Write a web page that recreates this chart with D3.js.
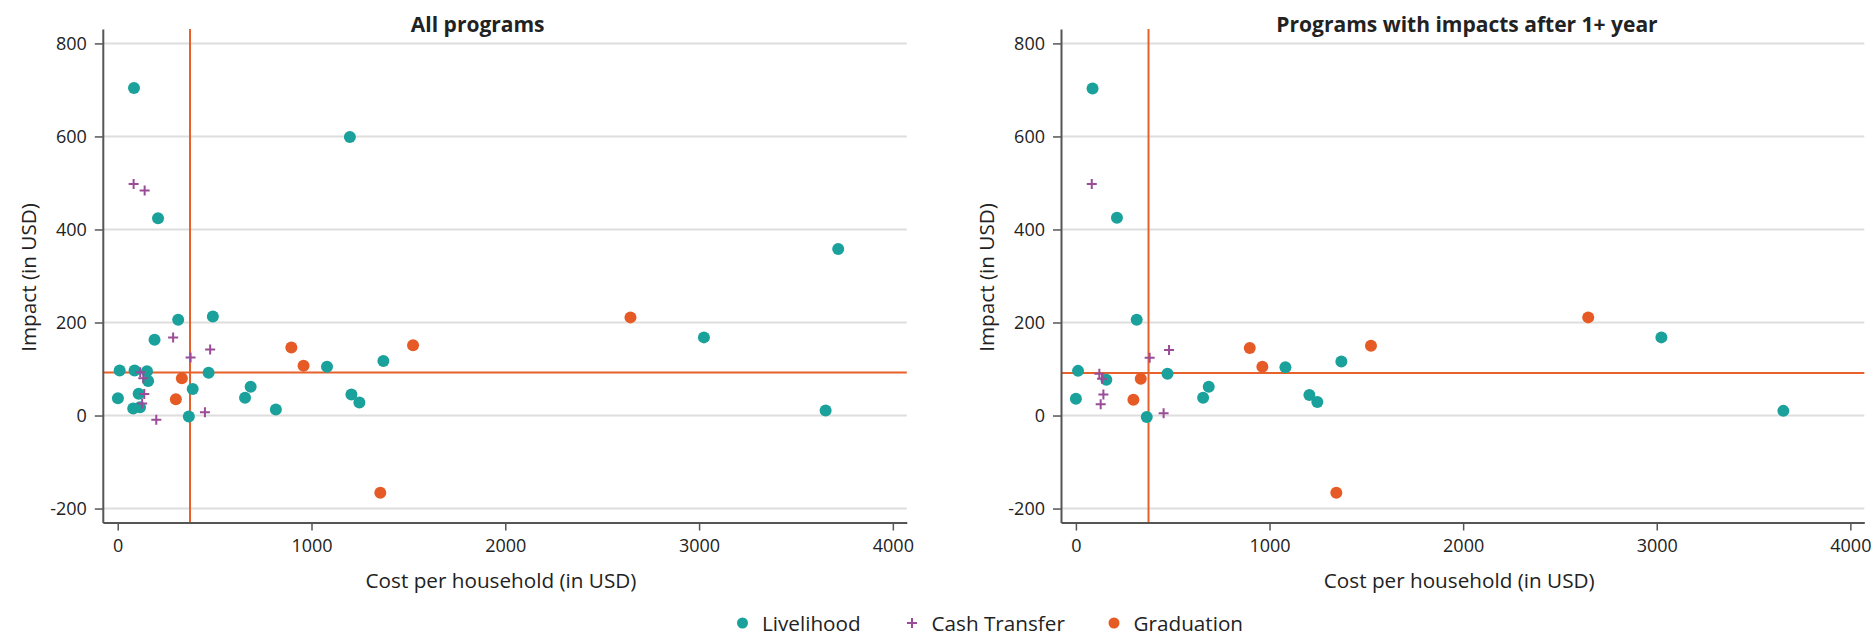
<!DOCTYPE html>
<html>
<head>
<meta charset="utf-8">
<script src="https://cdn.jsdelivr.net/npm/d3@7"></script>
<style>
  html, body { margin: 0; padding: 0; background: #fff; }
  svg { display: block; font-family: "Open Sans", "Noto Sans", sans-serif; }
</style>
</head>
<body>
<svg id="chart" width="1873" height="636"></svg>
<script>
// ---------------- data ----------------
const seriesNames = ["Livelihood", "Cash Transfer", "Graduation"];
const panelTitles = ["All programs", "Programs with impacts after 1+ year"];
const costTicks = [0, 1000, 2000, 3000, 4000];
const impactTicks = [-200, 0, 200, 400, 600, 800];
const costDomain = [-77, 4072];
const impactDomain = [-230, 831];

// Panel 1: All programs  ([cost, impact])
const allLivelihood = [
  [84, 704], [208, 424], [1198, 599], [312, 206], [491, 213], [190, 163],
  [10, 97], [87, 97], [151, 95], [157, 74], [469, 92], [387, 57],
  [686, 62], [657, 38], [816, 13], [1, 37], [108, 47], [80, 15],
  [115, 18], [367, -2], [1080, 105], [1371, 117], [1206, 45], [1247, 28],
  [3718, 358], [3025, 168], [3653, 11]
];
const allCash = [
  [82, 498], [139, 484], [286, 168], [477, 142], [376, 125], [116, 93],
  [132, 80], [137, 46], [126, 26], [199, -9], [450, 7]
];
const allGraduation = [
  [331, 80], [300, 35], [896, 146], [959, 107], [1524, 151], [1355, -166], [2646, 211]
];

// Panel 2: Programs with impacts after 1+ year
const longLivelihood = [
  [86, 703], [212, 425], [314, 206], [11, 96], [157, 77], [473, 90],
  [0, 36], [366, -3], [686, 62], [657, 38], [1082, 104], [1371, 116],
  [1206, 44], [1247, 29], [3024, 168], [3654, 10]
];
const longCash = [
  [82, 498], [481, 141], [381, 124], [121, 90], [135, 79], [142, 45], [128, 24], [453, 5]
];
const longGraduation = [
  [335, 79], [297, 34], [898, 145], [963, 105], [1524, 150], [1345, -166], [2646, 211]
];

// reference lines (median cost, median impact)
const refCost = [373, 375];
const refImpact = [92.5, 91.6];

// ---------------- styles / layout ----------------
const colors = { Livelihood: "#1aa19c", "Cash Transfer": "#9b4c98", Graduation: "#e65a25" };
const refColor = "#e8602a";
const gridColor = "#dedede";
const axisColor = "#555";
const textColor = "#222";

const panels = [
  { title: panelTitles[0], x0: 102.8, x1: 906.8, titleX: 477.7,
    series: [allLivelihood, allCash, allGraduation], refX: refCost[0], refY: refImpact[0] },
  { title: panelTitles[1], x0: 1061, x1: 1864.3, titleX: 1467,
    series: [longLivelihood, longCash, longGraduation], refX: refCost[1], refY: refImpact[1] }
];
const yTop = 29, yBot = 522.5;

const svg = d3.select("#chart");

panels.forEach(p => {
  const x = d3.scaleLinear().domain(costDomain).range([p.x0, p.x1]);
  const y = d3.scaleLinear().domain(impactDomain).range([yBot, yTop]);
  const g = svg.append("g");

  // gridlines
  g.append("g").selectAll("line").data(impactTicks).join("line")
    .attr("x1", p.x0).attr("x2", p.x1)
    .attr("y1", d => y(d)).attr("y2", d => y(d))
    .attr("stroke", gridColor).attr("stroke-width", 2);

  // reference lines
  g.append("line")
    .attr("x1", x(p.refX)).attr("x2", x(p.refX))
    .attr("y1", yTop).attr("y2", yBot)
    .attr("stroke", refColor).attr("stroke-width", 2);
  g.append("line")
    .attr("x1", p.x0).attr("x2", p.x1)
    .attr("y1", y(p.refY)).attr("y2", y(p.refY))
    .attr("stroke", refColor).attr("stroke-width", 2);

  // axes
  const xAxis = g.append("g").attr("transform", `translate(0,${yBot})`)
    .call(d3.axisBottom(x).tickValues(costTicks).tickFormat(d3.format("d"))
      .tickSizeInner(8).tickSizeOuter(0).tickPadding(9));
  const yAxis = g.append("g").attr("transform", `translate(${p.x0},0)`)
    .call(d3.axisLeft(y).tickValues(impactTicks).tickFormat(d3.format("d"))
      .tickSizeInner(8).tickSizeOuter(0).tickPadding(8));
  [xAxis, yAxis].forEach(a => {
    a.select(".domain").attr("stroke", axisColor).attr("stroke-width", 2);
    a.selectAll(".tick line").attr("stroke", axisColor).attr("stroke-width", 1.5);
    a.selectAll(".tick text").attr("fill", textColor)
      .style("font-size", "18px").style("font-family", '"Open Sans", sans-serif');
  });
  yAxis.selectAll(".tick text").text(d => d < 0 ? "-" + Math.abs(d) : d);

  // points
  const [liv, cash, grad] = p.series;
  g.append("g").selectAll("circle").data(liv).join("circle")
    .attr("cx", d => x(d[0])).attr("cy", d => y(d[1])).attr("r", 6)
    .attr("fill", colors.Livelihood);
  g.append("g").selectAll("circle").data(grad).join("circle")
    .attr("cx", d => x(d[0])).attr("cy", d => y(d[1])).attr("r", 6)
    .attr("fill", colors.Graduation);
  g.append("g").selectAll("path").data(cash).join("path")
    .attr("transform", d => `translate(${x(d[0])},${y(d[1])})`)
    .attr("d", "M-5,0H5M0,-5V5")
    .attr("stroke", colors["Cash Transfer"]).attr("stroke-width", 2).attr("fill", "none");

  // titles & labels
  g.append("text").attr("x", p.titleX).attr("y", 32.3)
    .attr("text-anchor", "middle").attr("fill", textColor)
    .style("font-size", "21px").style("font-weight", "bold").text(p.title);
  g.append("text").attr("x", p.x0 + 398.2).attr("y", 588.3)
    .attr("text-anchor", "middle").attr("fill", textColor)
    .style("font-size", "20.7px").text("Cost per household (in USD)");
  g.append("text")
    .attr("transform", `translate(${p.x0 - 67.1},277.5) rotate(-90)`)
    .attr("text-anchor", "middle").attr("fill", textColor)
    .style("font-size", "20.7px").text("Impact (in USD)");
});

// legend
const legendX = [742.5, 912, 1114];
const legend = svg.append("g");
seriesNames.forEach((name, i) => {
  const lx = legendX[i];
  if (name === "Cash Transfer") {
    legend.append("path").attr("transform", `translate(${lx},623)`)
      .attr("d", "M-5,0H5M0,-5V5").attr("stroke", colors[name])
      .attr("stroke-width", 2).attr("fill", "none");
  } else {
    legend.append("circle").attr("cx", lx).attr("cy", 623).attr("r", 5.5)
      .attr("fill", colors[name]);
  }
  legend.append("text").attr("x", lx + 19.5).attr("y", 630.5)
    .attr("fill", textColor).style("font-size", "20.7px").text(name);
});
</script>
</body>
</html>
